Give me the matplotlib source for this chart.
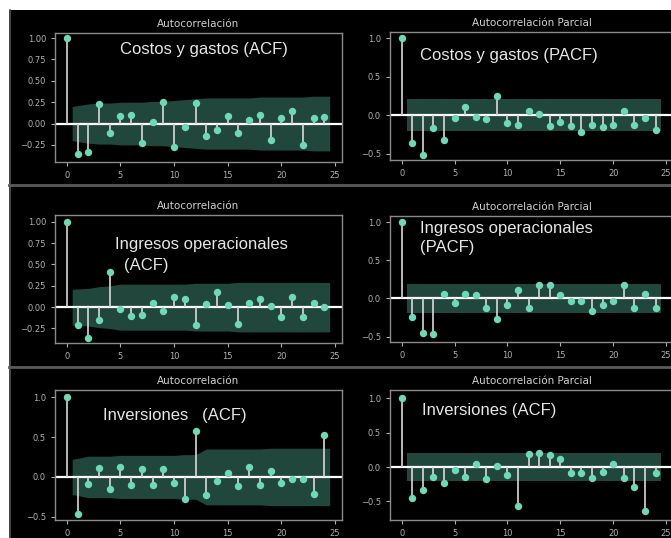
import numpy as np
import matplotlib
matplotlib.use("Agg")
import matplotlib.pyplot as plt
from matplotlib.patches import Rectangle
from matplotlib.lines import Line2D

lags = np.arange(25)

# valores
costos_acf = [1.0, -0.36, -0.33, 0.23, -0.11, 0.09, 0.10, -0.23, 0.02, 0.25, -0.27, -0.04,
              0.24, -0.15, -0.08, 0.09, -0.11, 0.04, 0.10, -0.19, 0.07, 0.15, -0.25, 0.07, 0.08]
costos_pacf = [1.0, -0.36, -0.51, -0.17, -0.32, -0.03, 0.11, -0.02, -0.05, 0.25, -0.10, -0.12,
               0.05, 0.02, -0.14, -0.09, -0.14, -0.22, -0.13, -0.15, -0.12, 0.06, -0.12, -0.04, -0.19]
ingresos_acf = [1.0, -0.21, -0.36, -0.15, 0.41, -0.02, -0.10, -0.09, 0.05, -0.05, 0.12, 0.10,
                -0.21, 0.04, 0.18, 0.03, -0.20, 0.05, 0.10, 0.01, -0.12, 0.12, -0.11, 0.05, 0.0]
ingresos_pacf = [1.0, -0.24, -0.45, -0.46, 0.06, -0.06, 0.06, 0.04, -0.12, -0.27, -0.09, 0.11,
                 -0.13, 0.17, 0.18, 0.05, -0.03, -0.03, -0.16, -0.09, -0.03, 0.17, -0.13, 0.06, -0.13]
inversiones_acf = [1.0, -0.46, -0.09, 0.11, -0.15, 0.12, -0.10, 0.10, -0.10, 0.10, -0.07, -0.28,
                   0.57, -0.23, -0.05, 0.05, -0.11, 0.12, -0.10, 0.08, -0.08, -0.02, -0.03, -0.22, 0.52]
inversiones_pacf = [1.0, -0.45, -0.34, -0.15, -0.23, -0.04, -0.15, 0.04, -0.18, 0.01, -0.12, -0.57,
                    0.19, 0.21, 0.17, 0.11, -0.08, -0.09, -0.16, -0.07, 0.04, -0.16, -0.29, -0.64, -0.08]

# intervalos de confianza (semiancho, lags 1..24)
costos_acf_band = [0.20, 0.23, 0.24, 0.24, 0.25, 0.25, 0.25, 0.26, 0.26, 0.27, 0.28, 0.29,
                   0.30, 0.30, 0.30, 0.30, 0.30, 0.31, 0.31, 0.31, 0.31, 0.31, 0.32, 0.32]
ingresos_acf_band = [0.21, 0.22, 0.24, 0.25, 0.27, 0.27, 0.27, 0.27, 0.27, 0.27, 0.27, 0.28,
                     0.28, 0.28, 0.28, 0.29, 0.29, 0.29, 0.29, 0.29, 0.29, 0.29, 0.29, 0.29]
inversiones_acf_band = [0.22, 0.26, 0.26, 0.26, 0.27, 0.27, 0.27, 0.27, 0.27, 0.27, 0.28, 0.28,
                        0.35, 0.35, 0.35, 0.35, 0.35, 0.35, 0.36, 0.36, 0.36, 0.36, 0.36, 0.36]
costos_pacf_band = [0.21] * 24
ingresos_pacf_band = [0.19] * 24
inversiones_pacf_band = [0.20] * 24

W, H = 671, 538
fig = plt.figure(figsize=(W / 100, H / 100), dpi=100, facecolor="white")

# fondo negro del pantallazo
fig.patches.append(Rectangle((9 / W, 0), 1, 1 - 10 / H, transform=fig.transFigure,
                             facecolor="black", edgecolor="none", zorder=-10))
fig.lines.append(Line2D([10 / W, 10 / W], [0, 1 - 10 / H], transform=fig.transFigure,
                        color="#555555", lw=1.2))
for yy in [185, 367]:
    fig.lines.append(Line2D([9 / W, 1], [1 - yy / H, 1 - yy / H], transform=fig.transFigure,
                            color="#5a5a5a", lw=2))

band_color = "#21473d"
stem_color = "#d9d9d9"
mark_color = "#6fd8b8"
tick_color = "#b0b0b0"


def panel(rect, vals, band, ylim, yticks, title, texts):
    l, t, r, b = rect
    ax = fig.add_axes([l / W, 1 - b / H, (r - l) / W, (b - t) / H])
    ax.set_facecolor("black")
    x = lags[1:].astype(float)
    x[0] -= 0.5
    x[-1] += 0.5
    band = np.array(band)
    ax.fill_between(x, -band, band, color=band_color, lw=0, zorder=1)
    ax.axhline(0, color="white", lw=1.6, zorder=2)
    ax.vlines(lags, 0, vals, color=stem_color, lw=1.2, zorder=3)
    ax.plot(lags, vals, "o", color=mark_color, ms=4.3, zorder=4)
    ax.set_xlim(-1.1, 25.65)
    ax.set_ylim(*ylim)
    ax.set_xticks([0, 5, 10, 15, 20, 25])
    ax.set_yticks(yticks)
    ax.tick_params(colors=tick_color, labelsize=6, length=3, width=0.8)
    for s in ax.spines.values():
        s.set_color("#8a8a8a")
        s.set_linewidth(1.0)
    ax.set_title(title, color="#d0d0d0", fontsize=7.5, pad=4)
    for tx, ty, s in texts:
        ax.text(tx, ty, s, color="#e6e6e6", fontsize=12, family="Liberation Sans",
                va="center", ha="left", zorder=5)
    return ax


acf_t = "Autocorrelación"
pacf_t = "Autocorrelación Parcial"

panel((55, 33, 342, 162), costos_acf, costos_acf_band, (-0.45, 1.06),
      [-0.25, 0, 0.25, 0.5, 0.75, 1.0], acf_t,
      [(5.0, 0.87, "Costos y gastos (ACF)")])
panel((390, 32, 673, 160), costos_pacf, costos_pacf_band, (-0.58, 1.08),
      [-0.5, 0, 0.5, 1.0], pacf_t,
      [(1.7, 0.78, "Costos y gastos (PACF)")])
panel((55, 215, 342, 343), ingresos_acf, ingresos_acf_band, (-0.42, 1.08),
      [-0.25, 0, 0.25, 0.5, 0.75, 1.0], acf_t,
      [(4.5, 0.73, "Ingresos operacionales"), (5.3, 0.49, "(ACF)")])
panel((390, 216, 673, 342), ingresos_pacf, ingresos_pacf_band, (-0.57, 1.08),
      [-0.5, 0, 0.5, 1.0], pacf_t,
      [(1.7, 0.91, "Ingresos operacionales"), (1.7, 0.67, "(PACF)")])
panel((55, 390, 342, 520), inversiones_acf, inversiones_acf_band, (-0.54, 1.09),
      [-0.5, 0, 0.5, 1.0], acf_t,
      [(3.4, 0.77, "Inversiones   (ACF)")])
panel((390, 390, 673, 520), inversiones_pacf, inversiones_pacf_band, (-0.77, 1.12),
      [-0.5, 0, 0.5, 1.0], pacf_t,
      [(1.9, 0.82, "Inversiones (ACF)")])

plt.savefig("out.png", dpi=100, facecolor=fig.get_facecolor())
